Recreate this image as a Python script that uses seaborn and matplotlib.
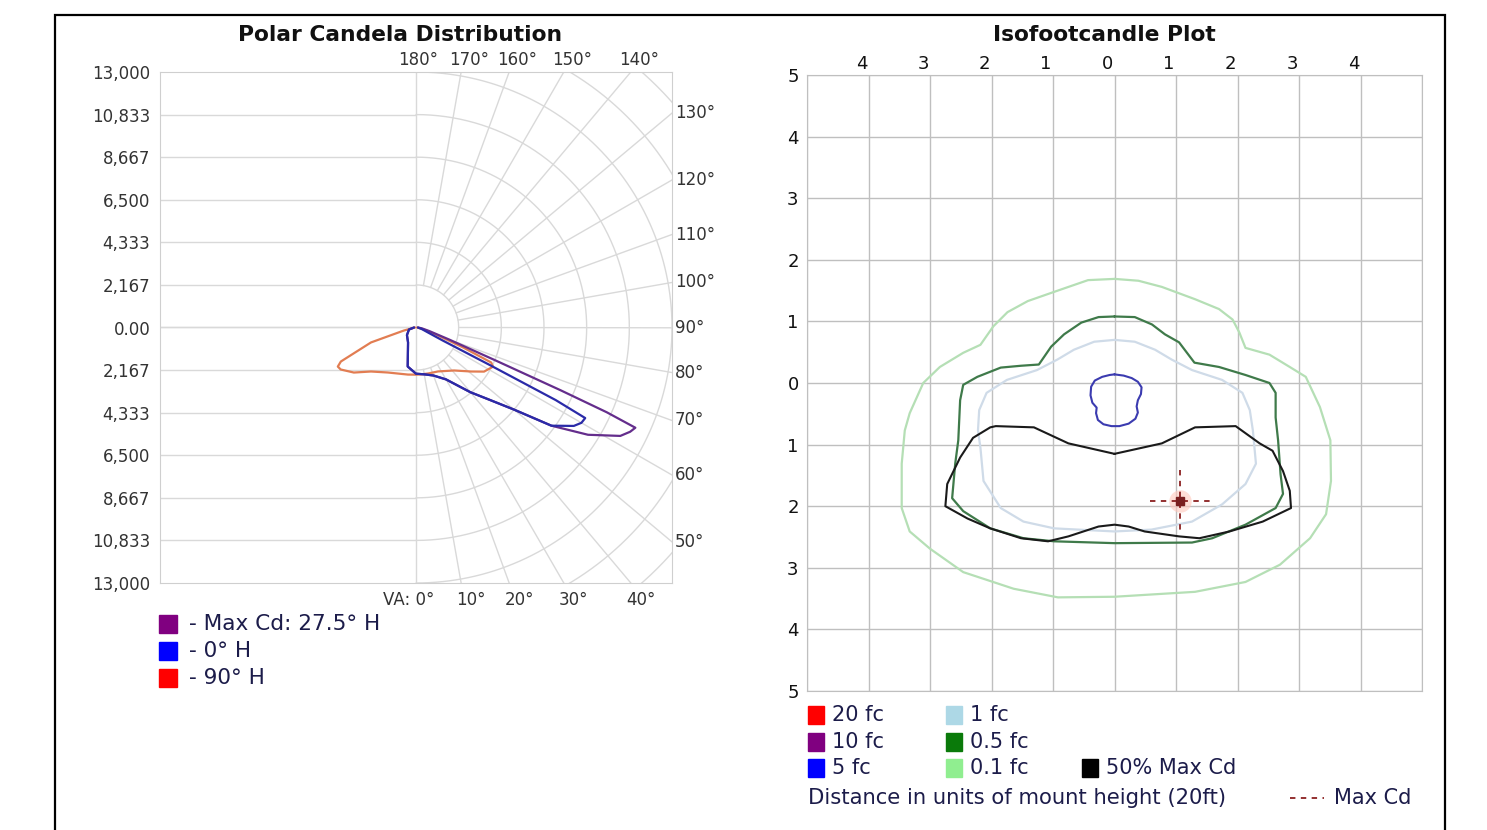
import numpy as np
import pandas as pd
import seaborn as sns
import matplotlib.pyplot as plt
from matplotlib.patches import Rectangle

# ---- Polar candela data: vertical angle from nadir (deg), candela
# negative angles are the opposite half plane (drawn on the left)
maxcd_va = [-90, -74, -50, -28, -12, 0, 10, 20, 30, 40, 45, 50, 54, 58, 62, 64, 65.4, 66, 66.5, 67.5, 70, 75, 82, 90]
maxcd_cd = [100, 370, 600, 860, 2030, 2350, 2420, 2600, 3050, 4300, 5150, 6500, 8500, 10300, 11750, 12100, 12250, 10600, 8000, 4300, 1800, 700, 300, 100]

h0_va = [-90, -74, -50, -28, -12, 0, 10, 20, 30, 40, 45, 50, 54, 58, 60, 61.8, 62.5, 63, 64, 67, 75, 90]
h0_cd = [100, 370, 600, 860, 2030, 2350, 2420, 2600, 3050, 4300, 5150, 6500, 8500, 9450, 9700, 9750, 8000, 4200, 1500, 700, 300, 100]

h90_va = [-90, -76, -71.6, -65.6, -63.4, -60.8, -54, -45.6, -32, -20, -9.7, 0, 6, 15, 26.6, 41.5, 51.3, 57, 63, 65, 67, 70, 76, 90]
h90_cd = [50, 630, 2410, 4190, 4440, 4380, 3900, 3200, 2700, 2500, 2430, 2400, 2400, 2420, 2500, 2920, 3580, 4120, 4390, 4210, 2600, 1200, 400, 50]

cd_labels = ["13,000", "10,833", "8,667", "6,500", "4,333", "2,167", "0.00",
             "2,167", "4,333", "6,500", "8,667", "10,833", "13,000"]

# ---- Isofootcandle contours (units of mount height, y positive = forward/down)
fc01_x = [0.0, 0.39, 0.77, 1.31, 1.70, 1.92, 2.03, 2.13, 2.52, 2.85, 3.11, 3.34, 3.51, 3.52, 3.44, 3.18, 2.69, 2.13, 1.31, 0.49, 0.0,
          -0.92, -1.64, -2.46, -3.0, -3.33, -3.46, -3.46, -3.41, -3.33, -3.11, -2.84, -2.46, -2.18, -1.97, -1.74, -1.41, -0.98, -0.43, 0.0]
fc01_y = [-1.69, -1.66, -1.56, -1.36, -1.20, -1.03, -0.82, -0.57, -0.46, -0.26, -0.10, 0.39, 0.93, 1.59, 2.13, 2.52, 2.95, 3.23, 3.39, 3.44, 3.47,
          3.48, 3.34, 3.07, 2.69, 2.41, 2.03, 1.31, 0.77, 0.49, 0.0, -0.26, -0.49, -0.62, -0.92, -1.15, -1.33, -1.48, -1.67, -1.69]

fc1_x = [0.0, 0.33, 0.66, 0.93, 1.26, 1.75, 2.08, 2.20, 2.25, 2.30, 2.13, 1.75, 1.26, 0.6, 0.0, -0.98, -1.48, -1.85,
         -2.13, -2.18, -2.22, -2.20, -2.08, -1.75, -1.26, -0.93, -0.66, -0.33, 0.0]
fc1_y = [-0.70, -0.67, -0.54, -0.38, -0.21, -0.05, 0.16, 0.44, 0.77, 1.31, 1.64, 1.97, 2.25, 2.38, 2.41, 2.36, 2.25, 2.03,
         1.59, 1.05, 0.77, 0.44, 0.16, -0.05, -0.21, -0.38, -0.54, -0.67, -0.70]

fc05_x = [0.0, 0.33, 0.61, 0.82, 1.05, 1.30, 1.70, 2.13, 2.52, 2.62, 2.62, 2.66, 2.70, 2.74, 2.62, 2.13, 1.59, 1.26, 0.0,
          -0.98, -1.48, -2.02, -2.46, -2.64, -2.59, -2.54, -2.51, -2.46, -2.23, -1.85, -1.52, -1.23, -1.03, -0.82, -0.54, -0.26, 0.0]
fc05_y = [-1.08, -1.07, -0.95, -0.79, -0.66, -0.33, -0.26, -0.13, 0.0, 0.16, 0.56, 0.93, 1.48, 1.80, 2.03, 2.30, 2.52, 2.59, 2.60,
          2.57, 2.52, 2.36, 2.08, 1.87, 1.31, 0.93, 0.28, 0.03, -0.10, -0.25, -0.28, -0.30, -0.59, -0.79, -0.98, -1.07, -1.08]

half_x = [0.0, 0.77, 1.31, 1.97, 2.36, 2.57, 2.74, 2.85, 2.87, 2.41, 1.87, 1.38, 1.05, 0.49, 0.23, 0.0,
          -0.26, -0.75, -1.08, -1.52, -2.02, -2.39, -2.75, -2.72, -2.51, -2.30, -2.02, -1.93, -1.31, -0.75, 0.0]
half_y = [1.15, 0.98, 0.72, 0.70, 0.98, 1.10, 1.43, 1.75, 2.03, 2.25, 2.41, 2.52, 2.49, 2.41, 2.33, 2.30,
          2.33, 2.49, 2.57, 2.52, 2.36, 2.20, 2.00, 1.64, 1.21, 0.89, 0.72, 0.70, 0.72, 0.98, 1.15]

fc5_x = [0.0, 0.15, 0.28, 0.38, 0.44, 0.43, 0.38, 0.36, 0.38, 0.34, 0.23, 0.08, -0.05, -0.18, -0.27, -0.30,
         -0.29, -0.36, -0.39, -0.38, -0.32, -0.20, -0.08, 0.0]
fc5_y = [-0.14, -0.12, -0.08, -0.02, 0.07, 0.18, 0.28, 0.38, 0.48, 0.58, 0.66, 0.70, 0.70, 0.67, 0.60, 0.49,
         0.40, 0.32, 0.20, 0.06, -0.04, -0.10, -0.13, -0.14]

max_x, max_y = 1.07, 1.92

sns.set_style("white")
plt.rcParams['font.family'] = ['DejaVu Sans']

W, H = 1487, 830
def fx(px):
    return px / W
def fy(py):
    return 1 - py / H

fig = plt.figure(figsize=(W / 100, H / 100), dpi=100)
fig.add_artist(Rectangle((fx(55), -0.1), fx(1445) - fx(55), fy(15) + 0.1, fill=False,
                         ec='black', lw=1.6, transform=fig.transFigure))

# ================= Polar candela distribution =================
ax1 = fig.add_axes([fx(160), fy(583), 512 / W, 511 / H])
R = 13000
step = R / 6
gcol = '#d9d9d9'
ax1.set_xlim(-R, R)
ax1.set_ylim(-R, R)
ax1.set_xticks([])
ax1.set_yticks(np.arange(6, -7, -1) * step)
ax1.set_yticklabels(cd_labels)
ax1.tick_params(axis='y', length=0, pad=7, labelsize=12, labelcolor='#333333')
for s in ax1.spines.values():
    s.set_color('#cfcfcf')

# horizontal lines on the left, rings on the right
for k in range(0, 6):
    ax1.plot([-R, 0], [k * step, k * step], color=gcol, lw=1, zorder=1)
    ax1.plot([-R, 0], [-k * step, -k * step], color=gcol, lw=1, zorder=1)
ang = np.radians(np.linspace(0, 180, 361))
for k in range(1, 10):
    r = k * step
    ax1.plot(r * np.sin(ang), -r * np.cos(ang), color=gcol, lw=1, zorder=1)
for a in range(10, 180, 10):
    t = np.radians(a)
    ax1.plot([step * np.sin(t), 3 * R * np.sin(t)], [-step * np.cos(t), -3 * R * np.cos(t)],
             color=gcol, lw=1, zorder=1)
ax1.plot([0, 0], [-R, R], color=gcol, lw=1, zorder=1)

curves = [(h90_va, h90_cd, '#e27d52'), (maxcd_va, maxcd_cd, '#642d8c'), (h0_va, h0_cd, '#2a2aa8')]
for va, cd, col in curves:
    t = np.radians(va)
    df = pd.DataFrame({'x': np.array(cd) * np.sin(t), 'y': -np.array(cd) * np.cos(t)})
    sns.lineplot(data=df, x='x', y='y', sort=False, estimator=None, color=col, lw=1.6, ax=ax1, zorder=3)
ax1.set_xlabel('')
ax1.set_ylabel('')

# angle labels where spokes meet the frame
def edge_point(a):
    t = np.radians(a)
    sx, sy = np.sin(t), -np.cos(t)
    d = min(R / abs(sx) if abs(sx) > 1e-9 else 1e9, R / abs(sy) if abs(sy) > 1e-9 else 1e9)
    return sx * d, sy * d

lab_kw = dict(textcoords='offset pixels', fontsize=12, color='#333333', annotation_clip=False)
ax1.annotate('VA: 0°', xy=edge_point(0), xytext=(18, -17), ha='right', va='center', **lab_kw)
for a in [10, 20, 30, 40]:
    ax1.annotate(f'{a}°', xy=edge_point(a), xytext=(10, -17), ha='center', va='center', **lab_kw)
for a in [50, 60, 70, 80, 90, 100, 110, 120, 130]:
    ax1.annotate(f'{a}°', xy=edge_point(a), xytext=(3, 0), ha='left', va='center', **lab_kw)
for a in [140, 150, 160, 170, 180]:
    ax1.annotate(f'{a}°', xy=edge_point(a), xytext=(2 if a == 180 else 8, 12), ha='center', va='center', **lab_kw)

fig.text(fx(400), fy(35), 'Polar Candela Distribution', ha='center', va='center',
         fontsize=15.7, fontweight='bold', color='#111111')

# left legend
leg1 = [('#800080', '- Max Cd: 27.5° H'), ('#0000ff', '- 0° H'), ('#ff0000', '- 90° H')]
for i, (col, txt) in enumerate(leg1):
    yc = 624 + 27 * i
    fig.add_artist(Rectangle((fx(159), fy(yc + 9)), 18 / W, 18 / H, color=col, transform=fig.transFigure))
    fig.text(fx(189), fy(yc), txt, ha='left', va='center', fontsize=15.6, color='#1c1c4a')

# ================= Isofootcandle plot =================
ax2 = fig.add_axes([fx(807), fy(691), 615 / W, 616 / H])
ax2.set_xlim(-5, 5)
ax2.set_ylim(5, -5)
ax2.set_xticks(range(-5, 6))
ax2.set_yticks(range(-5, 6))
ax2.set_xticklabels([])
ax2.set_yticklabels([str(abs(v)) for v in range(-5, 6)])
ax2.tick_params(axis='both', length=0, labelsize=13, labelcolor='#111111')
ax2.tick_params(axis='y', pad=6)
ax2.grid(True, color='#bfbfbf', lw=1)
for s in ax2.spines.values():
    s.set_color('#bfbfbf')
for v in range(-4, 5):
    ax2.annotate(str(abs(v)), xy=(v, -5), xytext=(-7, 11), textcoords='offset pixels',
                 ha='center', va='center', fontsize=13, color='#111111', annotation_clip=False)

contours = [(fc01_x, fc01_y, '#b5dfb5', 1.6), (fc1_x, fc1_y, '#cfdbe8', 1.6),
            (fc05_x, fc05_y, '#3f7a4a', 1.6), (half_x, half_y, '#1a1a1a', 1.5),
            (fc5_x, fc5_y, '#3b3bb0', 1.5)]
for xs, ys, col, lw in contours:
    sns.lineplot(x=xs, y=ys, sort=False, estimator=None, color=col, lw=lw, ax=ax2, zorder=3)

# max candela marker
ax2.scatter([max_x], [max_y], s=260, color='#ffc8bc', alpha=0.6, lw=0, zorder=3)
ax2.plot([max_x - 0.5, max_x + 0.5], [max_y, max_y], ls=(0, (3, 3)), color='#8b2020', lw=1.3, zorder=4)
ax2.plot([max_x, max_x], [max_y - 0.5, max_y + 0.5], ls=(0, (3, 3)), color='#8b2020', lw=1.3, zorder=4)
ax2.plot([max_x], [max_y], marker='s', ms=6, color='#7a1f1f', zorder=5)

fig.text(fx(1104), fy(35), 'Isofootcandle Plot', ha='center', va='center',
         fontsize=15.7, fontweight='bold', color='#111111')

# right legend
leg2 = [(808, 715, '#ff0000', '20 fc'), (808, 742, '#800080', '10 fc'), (808, 768, '#0000ff', '5 fc'),
        (946, 715, '#add8e6', '1 fc'), (946, 742, '#0a7a0a', '0.5 fc'), (946, 768, '#90ee90', '0.1 fc'),
        (1082, 768, '#000000', '50% Max Cd')]
for px, py, col, txt in leg2:
    fig.add_artist(Rectangle((fx(px), fy(py + 9)), 16 / W, 18 / H, color=col, transform=fig.transFigure))
    fig.text(fx(px + 24), fy(py), txt, ha='left', va='center', fontsize=15, color='#1c1c4a')
fig.text(fx(808), fy(798), 'Distance in units of mount height (20ft)', ha='left', va='center',
         fontsize=15.2, color='#1c1c4a')
fig.add_artist(plt.Line2D([fx(1290), fx(1324)], [fy(798), fy(798)], ls=(0, (3, 3)), color='#8b2020',
                          lw=1.3, transform=fig.transFigure))
fig.text(fx(1334), fy(798), 'Max Cd', ha='left', va='center', fontsize=15, color='#1c1c4a')

fig.savefig('out.png', dpi=100)
